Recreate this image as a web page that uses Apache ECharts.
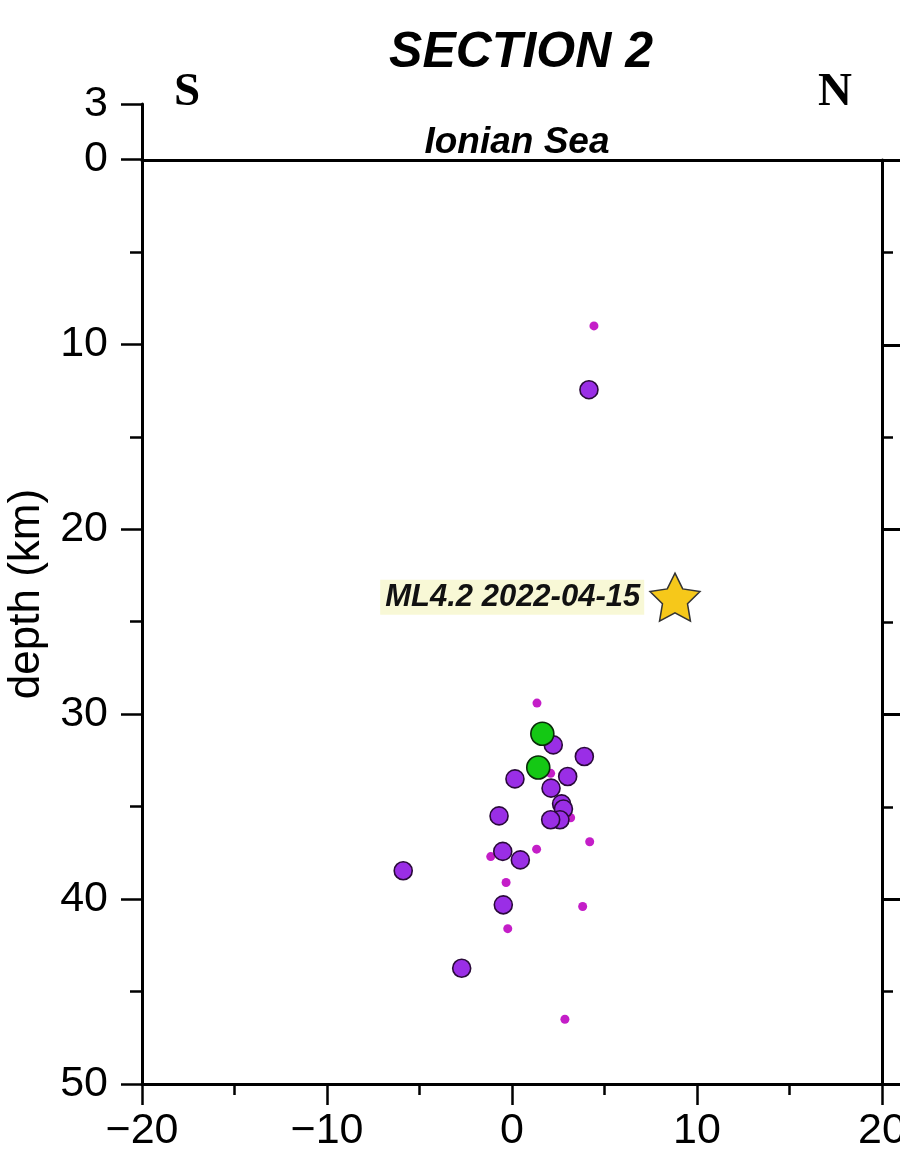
<!DOCTYPE html>
<html>
<head>
<meta charset="utf-8">
<title>SECTION 2</title>
<script src="https://cdn.jsdelivr.net/npm/echarts@6/dist/echarts.min.js"></script>
<style>
  html, body { margin: 0; padding: 0; background: #fff; }
  #chart { width: 900px; height: 1162px; }
</style>
</head>
<body>
<div id="chart"></div>
<script>
// distance along section (km), depth (km)
const smallEvents = [
  [4.43, 9.0], [1.35, 29.4], [2.09, 33.2], [3.17, 35.6], [4.2, 36.9],
  [1.33, 37.3], [-1.15, 37.7], [-0.32, 39.1], [3.82, 40.4], [-0.23, 41.6],
  [2.86, 46.5]
]
const mediumEvents = [
  [4.16, 12.45], [2.23, 31.66], [3.91, 32.29], [0.16, 33.5], [3.01, 33.37],
  [2.11, 34.0], [2.68, 34.85], [2.78, 35.13], [2.59, 35.71], [2.09, 35.71],
  [-0.7, 35.5], [-0.5, 37.42], [0.45, 37.88], [-5.88, 38.47], [-0.47, 40.31],
  [-2.72, 43.74]
]
const largeEvents = [[1.64, 31.06], [1.42, 32.88]]
const mainShock = [[8.81, 23.67]]
const mainShockLabel = 'ML4.2 2022-04-15'

const depthTicks = [-3, 0, 10, 20, 30, 40, 50]
const depthMinorTicks = [5, 15, 25, 35, 45]

const chart = echarts.init(document.getElementById('chart'))

const sans = 'Liberation Sans, Arial, Helvetica, sans-serif'
const serif = 'Liberation Serif, Times New Roman, serif'
const black = '#000'
const starPath = 'path://M0,-10 L2.94,-4.05 L9.51,-3.09 L4.76,1.55 L5.88,8.09 L0,5 L-5.88,8.09 L-4.76,1.55 L-9.51,-3.09 L-2.94,-4.05 Z'

const option = {
  backgroundColor: '#fff',
  animation: false,
  title: [
    {
      text: 'SECTION 2',
      left: 516,
      textAlign: 'center',
      top: 23,
      textStyle: { fontFamily: sans, fontSize: 50, fontWeight: 'bold', fontStyle: 'italic', color: black }
    },
    {
      text: 'Ionian Sea',
      left: 512,
      textAlign: 'center',
      top: 119,
      textStyle: { fontFamily: sans, fontSize: 37, fontWeight: 'bold', fontStyle: 'italic', color: black }
    },
    {
      text: 'S',
      left: 169,
      top: 64,
      textStyle: { fontFamily: serif, fontSize: 47, fontWeight: 'bold', color: black }
    },
    {
      text: 'N',
      left: 813,
      top: 64,
      textStyle: { fontFamily: serif, fontSize: 47, fontWeight: 'bold', color: black }
    }
  ],
  grid: [
    { left: 142, right: 18, top: 104, bottom: 78, outerBoundsMode: 'none', containLabel: false },
    { left: 142, right: 18, top: 160, bottom: 78, outerBoundsMode: 'none', containLabel: false }
  ],
  xAxis: [
    {
      gridIndex: 0,
      type: 'value',
      position: 'bottom',
      min: -20,
      max: 20,
      interval: 10,
      axisLine: { show: true, onZero: false, lineStyle: { color: black, width: 3 } },
      axisTick: { show: true, length: 21, lineStyle: { color: black, width: 2.5 } },
      minorTick: { show: true, splitNumber: 2, length: 11, lineStyle: { color: black, width: 2.5 } },
      axisLabel: {
        margin: 26,
        fontFamily: sans,
        fontSize: 43,
        color: black,
        formatter: (v) => String(v).replace('-', '\u2212')
      },
      splitLine: { show: false }
    },
    {
      gridIndex: 1,
      type: 'value',
      position: 'top',
      min: -20,
      max: 20,
      axisLine: { show: true, onZero: false, lineStyle: { color: black, width: 3 } },
      axisTick: { show: false },
      axisLabel: { show: false },
      splitLine: { show: false }
    }
  ],
  yAxis: [
    {
      gridIndex: 0,
      type: 'value',
      position: 'left',
      inverse: true,
      min: -3,
      max: 50,
      name: 'depth (km)',
      nameLocation: 'middle',
      nameGap: 90,
      nameRotate: 90,
      nameTextStyle: { fontFamily: sans, fontSize: 44, color: black },
      axisLine: { show: true, onZero: false, lineStyle: { color: black, width: 3 } },
      axisTick: { show: true, customValues: depthTicks, length: 21, lineStyle: { color: black, width: 2.5 } },
      axisLabel: {
        customValues: depthTicks,
        margin: 34,
        fontFamily: sans,
        fontSize: 43,
        color: black,
        formatter: (v) => String(Math.abs(v))
      },
      splitLine: { show: false }
    },
    {
      gridIndex: 0,
      type: 'value',
      position: 'left',
      inverse: true,
      min: -3,
      max: 50,
      axisLine: { show: false, onZero: false },
      axisTick: { show: true, customValues: depthMinorTicks, length: 12, lineStyle: { color: black, width: 2.5 } },
      axisLabel: { show: false },
      splitLine: { show: false }
    },
    {
      gridIndex: 1,
      type: 'value',
      position: 'right',
      inverse: true,
      min: 0,
      max: 50,
      interval: 10,
      axisLine: { show: true, onZero: false, lineStyle: { color: black, width: 3 } },
      axisTick: { show: true, length: 21, lineStyle: { color: black, width: 3 } },
      minorTick: { show: true, splitNumber: 2, length: 11, lineStyle: { color: black, width: 2.5 } },
      axisLabel: { show: false },
      splitLine: { show: false }
    }
  ],
  series: [
    {
      type: 'scatter',
      xAxisIndex: 0,
      yAxisIndex: 0,
      data: smallEvents,
      symbolSize: 9,
      itemStyle: { color: '#c41ec8', opacity: 1 },
      z: 2
    },
    {
      type: 'scatter',
      xAxisIndex: 0,
      yAxisIndex: 0,
      data: mediumEvents,
      symbolSize: 18,
      itemStyle: { color: '#9a2ee6', borderColor: '#2a0a3a', borderWidth: 1.6, opacity: 1 },
      z: 3
    },
    {
      type: 'scatter',
      xAxisIndex: 0,
      yAxisIndex: 0,
      data: largeEvents,
      symbolSize: 23,
      itemStyle: { color: '#14c814', borderColor: '#0a2a0a', borderWidth: 1.6, opacity: 1 },
      z: 4
    },
    {
      type: 'scatter',
      xAxisIndex: 0,
      yAxisIndex: 0,
      data: mainShock,
      symbol: starPath,
      symbolSize: [50, 48],
      itemStyle: { color: '#f6c81a', borderColor: '#333', borderWidth: 1.5, opacity: 1 },
      label: {
        show: true,
        position: 'left',
        distance: 5,
        formatter: mainShockLabel,
        fontFamily: sans,
        fontSize: 31,
        fontWeight: 'bold',
        fontStyle: 'italic',
        color: '#111',
        backgroundColor: '#f8f8d6',
        padding: [2, 4, 2, 5]
      },
      z: 5
    }
  ]
}

chart.setOption(option)
</script>
</body>
</html>
